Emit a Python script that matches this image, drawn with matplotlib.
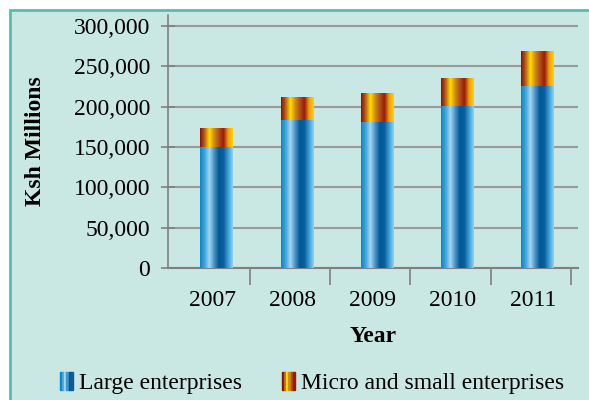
#Stacked bar chart of enterprise credit, Ksh millions
import matplotlib.pyplot as plt
import numpy as np
from matplotlib import colors
from matplotlib.patches import Rectangle
from matplotlib.legend_handler import HandlerTuple

years = ['2007', '2008', '2009', '2010', '2011']
large = [150000, 183000, 181000, 201000, 225000]
micro_small = [23000, 29000, 36000, 35000, 44000]

plt.rcParams['font.family'] = ['Liberation Serif', 'DejaVu Serif']

bg = '#c9e7e3'
blue_cols = ['#0a86c8', '#3fa6dc', '#a5d6f0', '#4a93c6', '#005a96', '#0b5f98', '#3d9fd8', '#8fd3f5']
orange_cols = ['#7f1408', '#c0601a', '#ffe000', '#d48a16', '#b0501a', '#9a1a0c', '#f0a010', '#ffd400']
blue_cmap = colors.LinearSegmentedColormap.from_list('blu', blue_cols)
orange_cmap = colors.LinearSegmentedColormap.from_list('org', orange_cols)
grad = np.linspace(0, 1, 200).reshape(1, -1)

fig = plt.figure(figsize=(5.89, 4.0), dpi=100)
fig.patch.set_facecolor('white')
fig.patches.append(Rectangle((10/589, -0.05), 1.1, 1 - 10/400 + 0.05, transform=fig.transFigure,
                             facecolor=bg, edgecolor='#52bfae', linewidth=2, zorder=-5))

ax = fig.add_axes([168/589, 1 - 268/400, (578 - 168)/589, (268 - 15)/400])
ax.set_facecolor('none')
ax.set_zorder(2)

x = np.arange(len(years))
width = 0.41
b1 = ax.bar(x, large, width, color='none', edgecolor='none', zorder=3)
b2 = ax.bar(x, micro_small, width, bottom=large, color='none', edgecolor='none', zorder=3)
for bars, cmap in [(b1, blue_cmap), (b2, orange_cmap)]:
    for bar in bars:
        x0, y0 = bar.get_x(), bar.get_y()
        im = ax.imshow(grad, extent=[x0, x0 + bar.get_width(), y0, y0 + bar.get_height()],
                       aspect='auto', cmap=cmap, zorder=3, interpolation='bilinear')
        im.set_clip_path(bar)

ax.set_xlim(-0.61, 4.5)
ax.set_ylim(0, 313600)
ax.set_yticks(np.arange(0, 300001, 50000))
ax.set_yticklabels([f'{v:,}' for v in range(0, 300001, 50000)])
ax.yaxis.grid(True, color='#9a9a9a', linewidth=1.5, zorder=1)
ax.set_axisbelow(True)

ax.set_xticks(x - 0.06)
ax.set_xticklabels(years)
ax.set_xticks(x + 0.41, minor=True)
ax.tick_params(axis='x', which='major', length=0, labelsize=17, pad=16)
ax.tick_params(axis='x', which='minor', length=12, width=1.2, color='#808080')
ax.tick_params(axis='y', labelsize=17, direction='inout', length=10, width=1.2, color='#808080', pad=8)

for s in ['top', 'right']:
    ax.spines[s].set_visible(False)
ax.spines['left'].set_color('#808080')
ax.spines['bottom'].set_color('#808080')
ax.spines['left'].set_linewidth(1.2)
ax.spines['bottom'].set_linewidth(1.5)

ax.set_ylabel('Ksh Millions', fontsize=17, fontweight='bold', labelpad=20)
ax.set_xlabel('Year', fontsize=17, fontweight='bold', labelpad=11)

blue_h = tuple(Rectangle((0, 0), 1, 1, color=c) for c in blue_cols[:6])
orange_h = tuple(Rectangle((0, 0), 1, 1, color=c) for c in orange_cols[:6])
fig.legend([blue_h, orange_h], ['Large enterprises', 'Micro and small enterprises'],
           handler_map={tuple: HandlerTuple(ndivide=None, pad=0)},
           loc='center', bbox_to_anchor=(312/589, 1 - 383/400), ncol=2, frameon=False,
           fontsize=17, handlelength=0.55, handleheight=0.8, handletextpad=0.25, columnspacing=1.7)

fig.savefig('out.png', dpi=100, facecolor=fig.get_facecolor())
